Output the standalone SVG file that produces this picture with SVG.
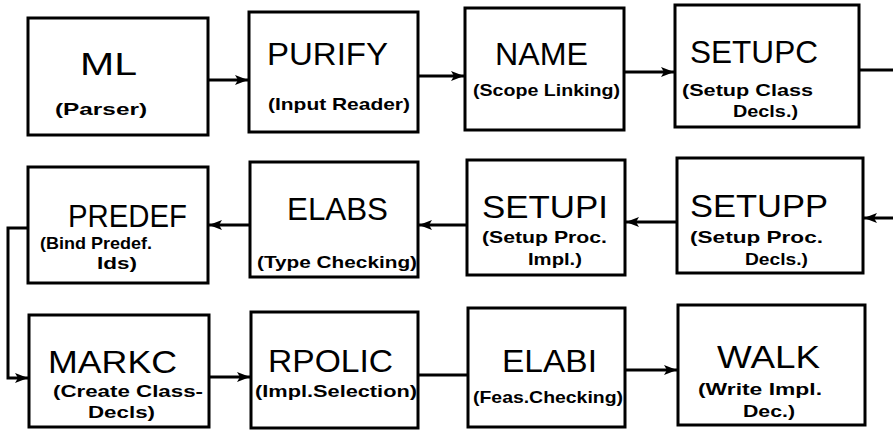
<svg xmlns="http://www.w3.org/2000/svg" width="893" height="433" viewBox="0 0 893 433">
  <style>
    .box { fill: #fff; stroke: #000; stroke-width: 3; }
    .title { font-family: "Liberation Sans", Arial, sans-serif; font-size: 31px; fill: #000; }
    .sub { font-family: "Liberation Sans", Arial, sans-serif; font-size: 17px; font-weight: bold; fill: #000; }
    .wire { fill: none; stroke: #000; stroke-width: 3; }
  </style>
  <defs>
    <marker id="head" markerUnits="userSpaceOnUse" markerWidth="14" markerHeight="12" refX="13" refY="6" orient="auto">
      <path d="M0,1 L13,6 L0,11 L3,6 Z" fill="#000"/>
    </marker>
  </defs>
  <rect width="893" height="433" fill="#fff"/>

  <!-- connectors -->
  <g id="connectors">
    <path class="wire" d="M208 80 H248" marker-end="url(#head)"/>
    <path class="wire" d="M418 76 H464" marker-end="url(#head)"/>
    <path class="wire" d="M624 72 H674" marker-end="url(#head)"/>
    <path class="wire" d="M859 70 H893"/>
    <path class="wire" d="M893 218 H864" marker-end="url(#head)"/>
    <path class="wire" d="M677 222 H626" marker-end="url(#head)"/>
    <path class="wire" d="M467 225 H419" marker-end="url(#head)"/>
    <path class="wire" d="M250 225 H209" marker-end="url(#head)"/>
    <path class="wire" d="M28 228 H8 V378 H28" marker-end="url(#head)"/>
    <path class="wire" d="M209 377 H250" marker-end="url(#head)"/>
    <path class="wire" d="M418 375 H468"/>
    <path class="wire" d="M625 370 H677" marker-end="url(#head)"/>
  </g>

  <!-- row 1 -->
  <g id="ml">
    <rect class="box" x="28" y="18" width="180" height="117"/>
    <text class="title" x="80" y="75" textLength="57" lengthAdjust="spacingAndGlyphs">ML</text>
    <text class="sub" x="55" y="115" textLength="92" lengthAdjust="spacingAndGlyphs">(Parser)</text>
  </g>
  <g id="purify">
    <rect class="box" x="249" y="12" width="169" height="120"/>
    <text class="title" x="267" y="65" textLength="121" lengthAdjust="spacingAndGlyphs">PURIFY</text>
    <text class="sub" x="268" y="110" textLength="142" lengthAdjust="spacingAndGlyphs">(Input Reader)</text>
  </g>
  <g id="name">
    <rect class="box" x="465" y="8" width="159" height="122"/>
    <text class="title" x="495" y="65" textLength="93" lengthAdjust="spacingAndGlyphs">NAME</text>
    <text class="sub" x="473" y="96" textLength="147" lengthAdjust="spacingAndGlyphs">(Scope Linking)</text>
  </g>
  <g id="setupc">
    <rect class="box" x="675" y="5" width="184" height="122"/>
    <text class="title" x="690" y="63" textLength="128" lengthAdjust="spacingAndGlyphs">SETUPC</text>
    <text class="sub" x="682" y="96" textLength="131" lengthAdjust="spacingAndGlyphs">(Setup Class</text>
    <text class="sub" x="733" y="117" textLength="65" lengthAdjust="spacingAndGlyphs">Decls.)</text>
  </g>

  <!-- row 2 -->
  <g id="predef">
    <rect class="box" x="28" y="167" width="180" height="116"/>
    <text class="title" x="68" y="227" textLength="119" lengthAdjust="spacingAndGlyphs">PREDEF</text>
    <text class="sub" x="40" y="249" font-size="16" textLength="112" lengthAdjust="spacingAndGlyphs">(Bind Predef.</text>
    <text class="sub" x="97" y="269" textLength="40" lengthAdjust="spacingAndGlyphs">Ids)</text>
  </g>
  <g id="elabs">
    <rect class="box" x="250" y="162" width="168" height="115"/>
    <text class="title" x="287" y="220" textLength="101" lengthAdjust="spacingAndGlyphs">ELABS</text>
    <text class="sub" x="257" y="268" textLength="160" lengthAdjust="spacingAndGlyphs">(Type Checking)</text>
  </g>
  <g id="setupi">
    <rect class="box" x="467" y="160" width="158" height="115"/>
    <text class="title" x="482" y="218" textLength="126" lengthAdjust="spacingAndGlyphs">SETUPI</text>
    <text class="sub" x="482" y="243" textLength="125" lengthAdjust="spacingAndGlyphs">(Setup Proc.</text>
    <text class="sub" x="528" y="265" textLength="54" lengthAdjust="spacingAndGlyphs">Impl.)</text>
  </g>
  <g id="setupp">
    <rect class="box" x="677" y="158" width="186" height="115"/>
    <text class="title" x="690" y="217" textLength="138" lengthAdjust="spacingAndGlyphs">SETUPP</text>
    <text class="sub" x="690" y="243" textLength="133" lengthAdjust="spacingAndGlyphs">(Setup Proc.</text>
    <text class="sub" x="745" y="265" textLength="63" lengthAdjust="spacingAndGlyphs">Decls.)</text>
  </g>

  <!-- row 3 -->
  <g id="markc">
    <rect class="box" x="29" y="315" width="180" height="112"/>
    <text class="title" x="48" y="373" textLength="129" lengthAdjust="spacingAndGlyphs">MARKC</text>
    <text class="sub" x="53" y="397" textLength="150" lengthAdjust="spacingAndGlyphs">(Create Class-</text>
    <text class="sub" x="88" y="418" textLength="67" lengthAdjust="spacingAndGlyphs">Decls)</text>
  </g>
  <g id="rpolic">
    <rect class="box" x="251" y="312" width="167" height="116"/>
    <text class="title" x="268" y="372" textLength="125" lengthAdjust="spacingAndGlyphs">RPOLIC</text>
    <text class="sub" x="255" y="397" textLength="162" lengthAdjust="spacingAndGlyphs">(Impl.Selection)</text>
  </g>
  <g id="elabi">
    <rect class="box" x="468" y="308" width="157" height="119"/>
    <text class="title" x="502" y="372" textLength="95" lengthAdjust="spacingAndGlyphs">ELABI</text>
    <text class="sub" x="473" y="403" textLength="150" lengthAdjust="spacingAndGlyphs">(Feas.Checking)</text>
  </g>
  <g id="walk">
    <rect class="box" x="678" y="305" width="187" height="120"/>
    <text class="title" x="717" y="368" textLength="103" lengthAdjust="spacingAndGlyphs">WALK</text>
    <text class="sub" x="698" y="395" textLength="124" lengthAdjust="spacingAndGlyphs">(Write Impl.</text>
    <text class="sub" x="743" y="417" textLength="52" lengthAdjust="spacingAndGlyphs">Dec.)</text>
  </g>
</svg>
